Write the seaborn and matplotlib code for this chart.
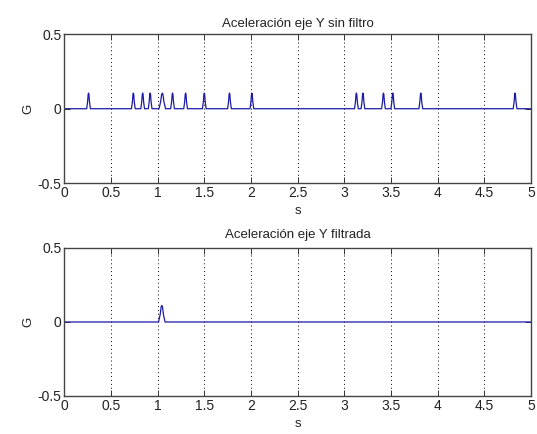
import numpy as np
import pandas as pd
import matplotlib
matplotlib.use("Agg")
import matplotlib.pyplot as plt
import seaborn as sns

# Picos de la señal sin filtrar (tiempo en s, amplitud en G)
raw_peak_times = [0.26, 0.74, 0.84, 0.92, 1.05, 1.16, 1.30, 1.50, 1.77, 2.01,
                  3.13, 3.20, 3.42, 3.52, 3.82, 4.83]
raw_peak_heights = [0.105, 0.105, 0.105, 0.105, 0.105, 0.105, 0.105, 0.105,
                    0.105, 0.105, 0.105, 0.105, 0.105, 0.105, 0.105, 0.105]
raw_peak_halfwidths = [0.02, 0.02, 0.02, 0.02, 0.035, 0.02, 0.02, 0.02, 0.02, 0.02,
                       0.02, 0.02, 0.02, 0.02, 0.02, 0.02]

# Señal filtrada: un solo pico
filt_peak_times = [1.045]
filt_peak_heights = [0.112]
filt_peak_halfwidths = [0.035]

# forma del pulso (fracción de ancho, fracción de altura)
pulse_dx = [-1.0, -0.5, -0.2, 0.0, 0.2, 0.5, 1.0]
pulse_dy = [0.0, 0.45, 0.92, 1.0, 0.92, 0.45, 0.0]

xticks = [0, 0.5, 1, 1.5, 2, 2.5, 3, 3.5, 4, 4.5, 5]
xticklabels = ["0", "0.5", "1", "1.5", "2", "2.5", "3", "3.5", "4", "4.5", "5"]
yticks = [-0.5, 0, 0.5]
yticklabels = ["-0.5", "0", "0.5"]


def build_signal(times, heights, halfwidths, t_end=5.0):
    t = [0.0]
    y = [0.0]
    for c, h, w in zip(times, heights, halfwidths):
        for dx, dy in zip(pulse_dx, pulse_dy):
            t.append(c + dx * w)
            y.append(h * dy)
    t.append(t_end)
    y.append(0.0)
    return pd.DataFrame({"s": t, "G": y})


sns.set_style("white")
plt.rcParams["font.family"] = ["Liberation Sans", "DejaVu Sans"]
plt.rcParams["font.size"] = 9.5

fig = plt.figure(figsize=(5.37, 4.34), dpi=100)
ax1 = fig.add_axes([0.1197, 0.578, 0.869, 0.343])
ax2 = fig.add_axes([0.1197, 0.0876, 0.869, 0.341])

datos = [
    (ax1, build_signal(raw_peak_times, raw_peak_heights, raw_peak_halfwidths),
     "Aceleración eje Y sin filtro", 5),
    (ax2, build_signal(filt_peak_times, filt_peak_heights, filt_peak_halfwidths),
     "Aceleración eje Y filtrada", 7),
]

for ax, df, titulo, tpad in datos:
    sns.lineplot(data=df, x="s", y="G", ax=ax, color="#1a1aa8", linewidth=0.9,
                 sort=False, estimator=None)
    ax.set_xlim(0, 5)
    ax.set_ylim(-0.5, 0.5)
    ax.set_xticks(xticks)
    ax.set_xticklabels(xticklabels)
    ax.set_yticks(yticks)
    ax.set_yticklabels(yticklabels)
    ax.xaxis.grid(True, linestyle=(0, (1, 3)), color="black", linewidth=0.7)
    ax.yaxis.grid(False)
    ax.tick_params(direction="in", length=4, width=0.7, labelsize=10, pad=2,
                   top=True, right=True, bottom=True, left=True,
                   colors="#333333", labelcolor="#222222")
    for sp in ax.spines.values():
        sp.set_color("#444444")
        sp.set_linewidth(1.0)
    ax.set_title(titulo, fontsize=9.5, pad=tpad, color="#222222")
    ax.set_xlabel("s", fontsize=9.5, labelpad=4, color="#222222")
    ax.set_ylabel("G", fontsize=9.5, color="#222222")
    ax.yaxis.set_label_coords(-0.065, 0.5)

fig.savefig("out.png", dpi=100, facecolor="white")
